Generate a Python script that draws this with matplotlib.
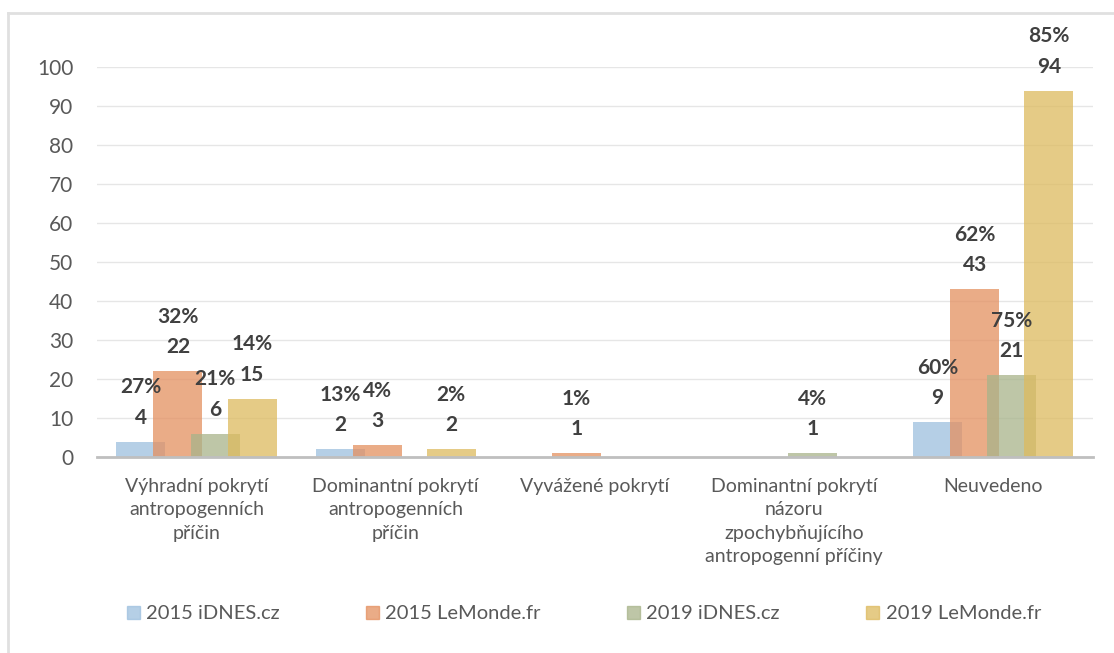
import numpy as np
import matplotlib.pyplot as plt
from matplotlib.lines import Line2D

categories = [
    "Výhradní pokrytí\nantropogenních\npříčin",
    "Dominantní pokrytí\nantropogenních\npříčin",
    "Vyvážené pokrytí",
    "Dominantní pokrytí\nnázoru\nzpochybňujícího\nantropogenní příčiny",
    "Neuvedeno",
]
series_names = ["2015 iDNES.cz", "2015 LeMonde.fr", "2019 iDNES.cz", "2019 LeMonde.fr"]
counts = [
    [4, 2, 0, 0, 9],
    [22, 3, 1, 0, 43],
    [6, 0, 0, 1, 21],
    [15, 2, 0, 0, 94],
]
percents = [
    ["27%", "13%", None, None, "60%"],
    ["32%", "4%", "1%", None, "62%"],
    ["21%", None, None, "4%", "75%"],
    ["14%", "2%", None, None, "85%"],
]

colors = ["#9DC0DE", "#E4905F", "#A8B48A", "#DDBA5E"]


def main():
    plt.rcParams['font.family'] = ['Lato', 'DejaVu Sans']
    fig = plt.figure(figsize=(11.14, 6.53), dpi=100)
    ax = fig.add_axes([0.087, 0.300, 0.894, 0.597])

    x = np.arange(len(categories))
    width = 0.246
    step = 0.186
    for i, name in enumerate(series_names):
        pos = x + (i - 1.5) * step
        ax.bar(pos, counts[i], width, color=colors[i], alpha=0.75,
               linewidth=0, label=name, zorder=2)
        for j, v in enumerate(counts[i]):
            if percents[i][j] is None:
                continue
            ax.annotate(f"{percents[i][j]}\n{v}", (pos[j], v),
                        xytext=(0, 14), textcoords='offset pixels',
                        ha='center', va='bottom', fontsize=15,
                        fontweight='bold', color='#404040',
                        linespacing=1.65, annotation_clip=False, zorder=3)

    ax.set_ylim(0, 100)
    ax.set_xlim(-0.5, len(categories) - 0.5)
    ax.set_yticks(np.arange(0, 101, 10))
    ax.set_xticks(x)
    ax.set_xticklabels(categories, fontsize=14, color='#595959', linespacing=1.45,
                       va='top')
    ax.tick_params(axis='y', labelsize=15, labelcolor='#595959', length=0, pad=17)
    ax.tick_params(axis='x', length=0, pad=15)
    ax.grid(axis='y', color='#E6E6E6', linewidth=1, zorder=0)
    for s in ['top', 'right', 'left']:
        ax.spines[s].set_visible(False)
    ax.spines['bottom'].set_color('#BFBFBF')
    ax.spines['bottom'].set_linewidth(2)

    handles = [plt.Rectangle((0, 0), 1, 1, color=c, alpha=0.75) for c in colors]
    fig.legend(handles, series_names, loc='center', bbox_to_anchor=(0.524, 0.06),
               ncol=4, frameon=False, fontsize=14.5, labelcolor='#595959',
               handlelength=0.65, handleheight=0.65, handletextpad=0.3,
               columnspacing=4.3)

    # light frame around the picture (left and top edges)
    fig.add_artist(Line2D([0.0072, 0.0072], [0, 0.98], color='#E0E0E0', lw=2,
                          transform=fig.transFigure))
    fig.add_artist(Line2D([0.0072, 1.0], [0.98, 0.98], color='#E0E0E0', lw=2,
                          transform=fig.transFigure))

    fig.savefig('out.png', dpi=100)


if __name__ == "__main__":
    main()
